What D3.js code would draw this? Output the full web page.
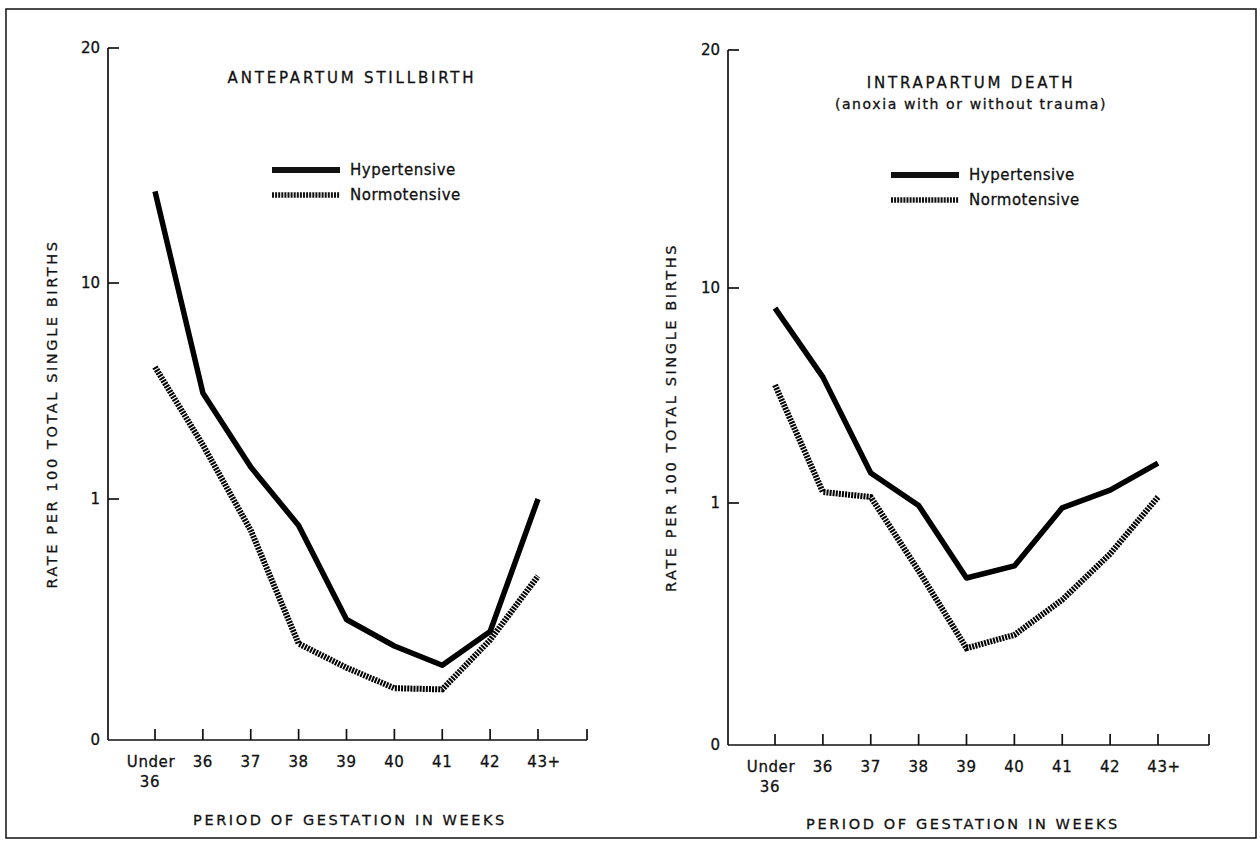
<!DOCTYPE html>
<html lang="en">
<head>
    <meta charset="UTF-8">
    <title>Hypertensive vs Normotensive: stillbirth and intrapartum death by gestation</title>
    <script src="https://d3js.org/d3.v7.min.js"></script>
    <style>
        body { margin: 0; background: #fff; }
        svg { display: block; }
        text { font-family: "DejaVu Sans", sans-serif; fill: #111; stroke: #111; stroke-width: 0.3px; }
        .caps { letter-spacing: 2.6px; }
        .axis-line { stroke: #111; stroke-width: 1.7; fill: none; }
    </style>
</head>
<body>
    <svg width="1260" height="842"></svg>

    <script>
        // categories on the x axis
        const weeks = ["Under 36", "36", "37", "38", "39", "40", "41", "42", "43+"];
        const yTicks = [0, 1, 10, 20];

        // rate per 100 total single births
        const anteHyper  = [13.9, 5.42, 2.33, 0.89, 0.50, 0.39, 0.31, 0.45, 1.0];
        const anteNormo  = [6.5, 3.25, 0.87, 0.40, 0.30, 0.215, 0.21, 0.415, 0.68];
        const intraHyper = [9.16, 6.27, 2.26, 0.99, 0.69, 0.74, 0.98, 1.54, 2.67];
        const intraNormo = [5.94, 1.46, 1.25, 0.72, 0.40, 0.455, 0.60, 0.79, 1.25];

        const svg = d3.select("svg");

        // outer frame of the figure
        svg.append("rect")
            .attr("x", 6).attr("y", 9)
            .attr("width", 1250).attr("height", 829)
            .attr("fill", "none")
            .attr("stroke", "#111")
            .attr("stroke-width", 1.5);

        const panels = [
            {
                title: ["ANTEPARTUM STILLBIRTH"],
                hyper: anteHyper, normo: anteNormo,
                axisX: 108, xStart: 155, xEnd: 538, axisEnd: 587,
                yRange: [740, 499, 283, 48],
                titleX: 352, titleY: 83,
                legendX: 272, legendY: 170,
                yTitleX: 57, xTitleX: 350, xTitleY: 825
            },
            {
                title: ["INTRAPARTUM DEATH", "(anoxia with or without trauma)"],
                hyper: intraHyper, normo: intraNormo,
                axisX: 728, xStart: 775, xEnd: 1158, axisEnd: 1209,
                yRange: [745, 503, 288, 50],
                titleX: 971, titleY: 88,
                legendX: 891, legendY: 175,
                yTitleX: 676, xTitleX: 963, xTitleY: 829
            }
        ];

        panels.forEach(p => {
            const g = svg.append("g");

            const x = d3.scalePoint().domain(weeks).range([p.xStart, p.xEnd]);
            // the printed axis is stretched unevenly between 0, 1, 10 and 20
            const y = d3.scaleLinear().domain(yTicks).range(p.yRange);
            const y0 = y(0);

            // y axis with inward ticks
            g.append("line").attr("class", "axis-line")
                .attr("x1", p.axisX).attr("x2", p.axisX)
                .attr("y1", y(20)).attr("y2", y0);
            g.selectAll(".ytick").data(yTicks.filter(d => d > 0))
                .enter().append("line").attr("class", "axis-line")
                .attr("x1", p.axisX).attr("x2", p.axisX + 11)
                .attr("y1", d => y(d)).attr("y2", d => y(d));
            g.selectAll(".ylab").data(yTicks)
                .enter().append("text")
                .attr("x", p.axisX - 8)
                .attr("y", d => y(d) + 5)
                .attr("text-anchor", "end")
                .style("font-size", "15px")
                .text(d => d);

            // x axis with upward ticks
            g.append("line").attr("class", "axis-line")
                .attr("x1", p.axisX).attr("x2", p.axisEnd)
                .attr("y1", y0).attr("y2", y0);
            g.selectAll(".xtick").data(weeks)
                .enter().append("line").attr("class", "axis-line")
                .attr("x1", d => x(d)).attr("x2", d => x(d))
                .attr("y1", y0).attr("y2", y0 - 11);
            g.append("line").attr("class", "axis-line")
                .attr("x1", p.axisEnd).attr("x2", p.axisEnd)
                .attr("y1", y0).attr("y2", y0 - 11);

            g.selectAll(".xlab").data(weeks)
                .enter().append("text")
                .attr("x", d => x(d) + (d === "Under 36" ? -4 : (d === "43+" ? 6 : 0)))
                .attr("y", y0 + 27)
                .attr("text-anchor", "middle")
                .style("font-size", "15px")
                .style("letter-spacing", "0.6px")
                .text(d => d === "Under 36" ? "Under" : d);
            g.append("text")
                .attr("x", x("Under 36") - 5)
                .attr("y", y0 + 47)
                .attr("text-anchor", "middle")
                .style("font-size", "15px")
                .style("letter-spacing", "0.6px")
                .text("36");

            // axis titles
            g.append("text").attr("class", "caps")
                .attr("transform", `translate(${p.yTitleX},${(y(20) + y0) / 2 + 20}) rotate(-90)`)
                .attr("text-anchor", "middle")
                .style("font-size", "14.5px")
                .text("RATE PER 100 TOTAL SINGLE BIRTHS");
            g.append("text").attr("class", "caps")
                .attr("x", p.xTitleX).attr("y", p.xTitleY)
                .attr("text-anchor", "middle")
                .style("font-size", "14.5px")
                .text("PERIOD OF GESTATION IN WEEKS");

            // panel title
            p.title.forEach((t, i) => {
                g.append("text")
                    .attr("x", p.titleX).attr("y", p.titleY + i * 21)
                    .attr("text-anchor", "middle")
                    .style("font-size", i === 0 ? "15px" : "14px")
                    .style("letter-spacing", i === 0 ? "2.8px" : "1.6px")
                    .text(t);
            });

            // legend
            const legend = [
                { name: "Hypertensive", dash: null },
                { name: "Normotensive", dash: "2 1.1" }
            ];
            legend.forEach((l, i) => {
                const ly = p.legendY + i * 25;
                g.append("line")
                    .attr("x1", p.legendX).attr("x2", p.legendX + 68)
                    .attr("y1", ly).attr("y2", ly)
                    .attr("stroke", "#111")
                    .attr("stroke-width", l.dash ? 5.5 : 6)
                    .attr("stroke-dasharray", l.dash);
                g.append("text")
                    .attr("x", p.legendX + 78).attr("y", ly + 5)
                    .style("font-size", "15px")
                    .style("letter-spacing", "0.5px")
                    .text(l.name);
            });

            // the two series
            const line = d3.line()
                .x((d, i) => x(weeks[i]))
                .y(d => y(d));

            g.append("path")
                .datum(p.normo)
                .attr("d", line)
                .attr("fill", "none")
                .attr("stroke", "#000")
                .attr("stroke-width", 6)
                .attr("stroke-dasharray", "2 1.1");

            g.append("path")
                .datum(p.hyper)
                .attr("d", line)
                .attr("fill", "none")
                .attr("stroke", "#000")
                .attr("stroke-width", 5.5)
                .attr("stroke-linejoin", "round");
        });
    </script>
</body>
</html>
